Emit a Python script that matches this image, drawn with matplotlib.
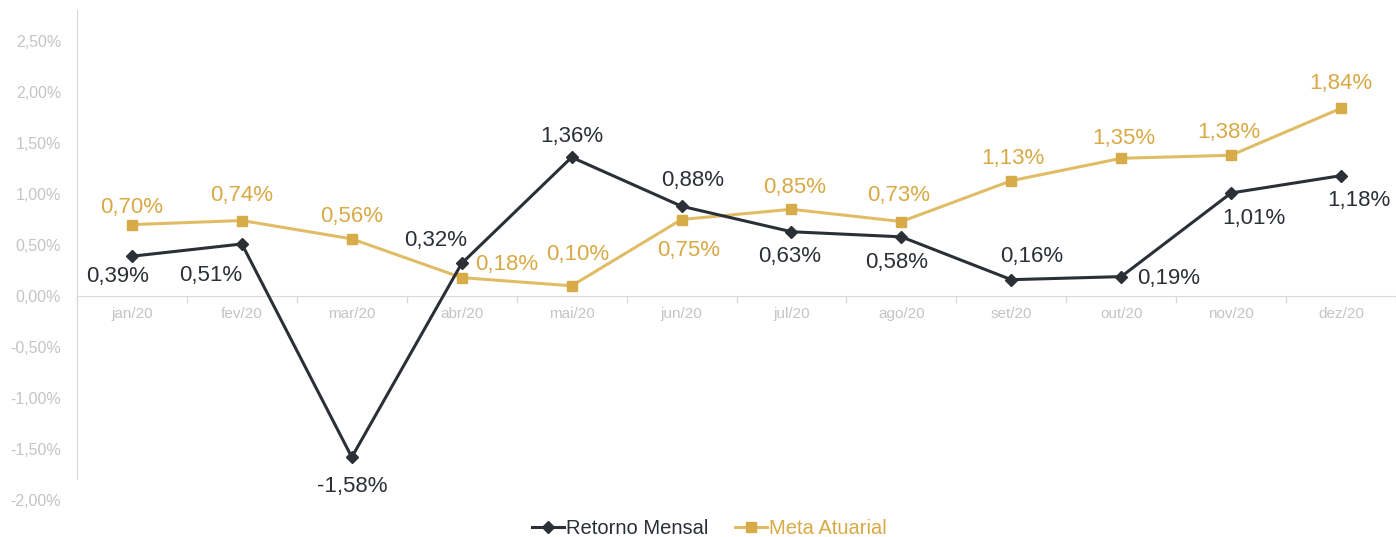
import matplotlib
matplotlib.use("Agg")
import matplotlib.pyplot as plt
from matplotlib.ticker import FuncFormatter, FixedLocator

months = ["jan/20", "fev/20", "mar/20", "abr/20", "mai/20", "jun/20",
          "jul/20", "ago/20", "set/20", "out/20", "nov/20", "dez/20"]
retorno = [0.39, 0.51, -1.58, 0.32, 1.36, 0.88, 0.63, 0.58, 0.16, 0.19, 1.01, 1.18]
meta = [0.70, 0.74, 0.56, 0.18, 0.10, 0.75, 0.85, 0.73, 1.13, 1.35, 1.38, 1.84]

# label offsets (pixels) - style only
ret_off = [(-14, -20), (-31, -32), (0, -29), (-26, 23), (0, 21), (11, 26),
           (-2, -25), (-5, -26), (20, 23), (47, -2), (23, -26), (18, -25)]
meta_off = [(0, 17), (0, 25), (0, 22), (45, 13), (6, 31), (7, -31),
            (3, 22), (-3, 26), (2, 22), (3, 20), (-2, 23), (0, 25)]

DARK = "#2b2f36"
GOLD_LINE = "#e0bc66"
GOLD_MARK = "#d6ab48"
GOLD_TXT = "#d8a945"
GRAY = "#c4c4c4"

plt.rcParams["font.family"] = ["Liberation Sans", "DejaVu Sans"]

fig = plt.figure(figsize=(13.96, 5.37), dpi=100)
ax = fig.add_axes([77 / 1396, 1 - 500 / 537, 1 - 77 / 1396, (500 - 10.4) / 537])

x = list(range(len(months)))
ax.plot(x, retorno, color=DARK, lw=2.2, marker="D", ms=6.5, mfc=DARK, mec=DARK,
        label="Retorno Mensal", zorder=3)
ax.plot(x, meta, color=GOLD_LINE, lw=2.2, marker="s", ms=6.5, mfc=GOLD_MARK, mec=GOLD_MARK,
        label="Meta Atuarial", zorder=2)

def fmt(v):
    return f"{v:.2f}".replace(".", ",") + "%"

for xi, v, (dx, dy) in zip(x, retorno, ret_off):
    ax.annotate(fmt(v), (xi, v), xytext=(dx, dy), textcoords="offset pixels",
                ha="center", va="center", fontsize=16, color=DARK, zorder=5)
for xi, v, (dx, dy) in zip(x, meta, meta_off):
    ax.annotate(fmt(v), (xi, v), xytext=(dx, dy), textcoords="offset pixels",
                ha="center", va="center", fontsize=16, color=GOLD_TXT, zorder=5)

ax.set_xlim(-0.5, len(months) - 0.5)
ax.set_ylim(-2.0, 2.8)
ax.set_xticks(x)
ax.set_xticklabels(months)
ax.xaxis.set_minor_locator(FixedLocator([i - 0.5 for i in range(len(months) + 1)]))
ax.tick_params(axis="x", which="major", length=0, pad=8, labelsize=11, labelcolor=GRAY)
ax.tick_params(axis="x", which="minor", length=5, color="#d9d9d9", width=1)
ax.set_yticks([-2.0, -1.5, -1.0, -0.5, 0.0, 0.5, 1.0, 1.5, 2.0, 2.5])
ax.yaxis.set_major_formatter(FuncFormatter(lambda v, p: fmt(v)))
ax.tick_params(axis="y", length=0, pad=11.5, labelsize=11.5, labelcolor=GRAY)

for s in ["top", "right"]:
    ax.spines[s].set_visible(False)
ax.spines["left"].set_color("#d9d9d9")
ax.spines["left"].set_bounds(-1.79, 2.8)
ax.spines["bottom"].set_position(("data", 0))
ax.spines["bottom"].set_color("#d9d9d9")

leg = fig.legend(loc="center", bbox_to_anchor=(0.508, 0.016), ncol=2, frameon=False,
                 fontsize=14.5, handlelength=1.6, handletextpad=0.1, columnspacing=1.3,
                 borderpad=0.1)
for t, c in zip(leg.get_texts(), [DARK, GOLD_TXT]):
    t.set_color(c)

fig.savefig("out.png", dpi=100)
